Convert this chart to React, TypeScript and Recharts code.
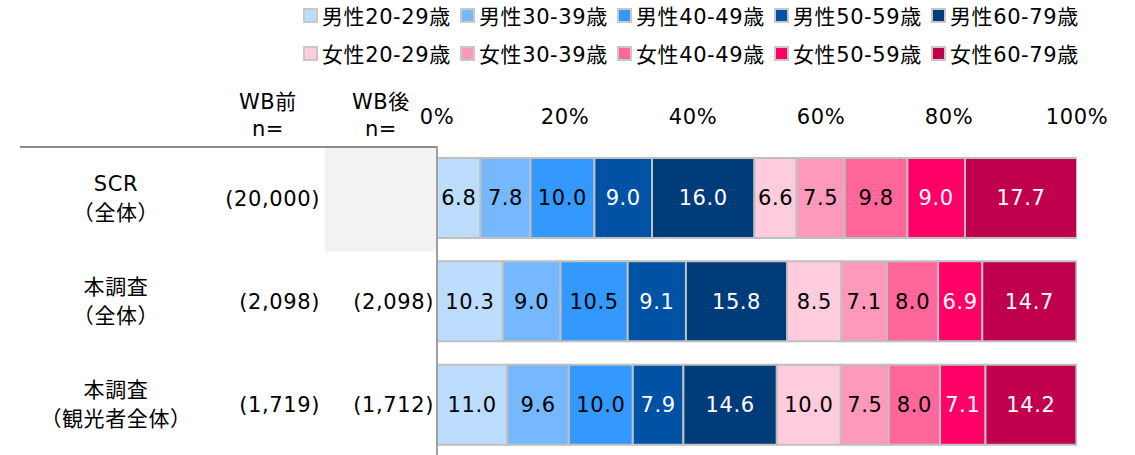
import React from 'react';
import { BarChart, Bar, XAxis, YAxis, LabelList } from 'recharts';

// rows (top to bottom)
const categories = ['SCR\n（全体）', '本調査\n（全体）', '本調査\n（観光者全体）'];
const nBefore = ['(20,000)', '(2,098)', '(1,719)'];
const nAfter = ['', '(2,098)', '(1,712)'];

// series
const seriesNames = [
  '男性20-29歳', '男性30-39歳', '男性40-49歳', '男性50-59歳', '男性60-79歳',
  '女性20-29歳', '女性30-39歳', '女性40-49歳', '女性50-59歳', '女性60-79歳',
];
const m2029 = [6.8, 10.3, 11.0];
const m3039 = [7.8, 9.0, 9.6];
const m4049 = [10.0, 10.5, 10.0];
const m5059 = [9.0, 9.1, 7.9];
const m6079 = [16.0, 15.8, 14.6];
const f2029 = [6.6, 8.5, 10.0];
const f3039 = [7.5, 7.1, 7.5];
const f4049 = [9.8, 8.0, 8.0];
const f5059 = [9.0, 6.9, 7.1];
const f6079 = [17.7, 14.7, 14.2];
const seriesValues = [m2029, m3039, m4049, m5059, m6079, f2029, f3039, f4049, f5059, f6079];

const xTicks = [0, 20, 40, 60, 80, 100];

const COLORS = [
  '#bdddff', '#75b8ff', '#3399ff', '#0052a5', '#003c7a',
  '#ffccdd', '#ff99bb', '#ff6699', '#ff0066', '#c0004c',
];
const LABEL_COLORS = ['#000', '#000', '#000', '#fff', '#fff', '#000', '#000', '#000', '#fff', '#fff'];

const FONT = "'DejaVu Sans', 'Noto Sans CJK JP', sans-serif";
const FS = 21;
const LS = 0.6;

const data = categories.map((c, i) => {
  const row: { [k: string]: string | number } = { name: c, idx: i };
  seriesValues.forEach((vals, s) => {
    row['s' + s] = vals[i];
  });
  return row;
});

const PLOT_TOP = 146;
const PLOT_H = 310;
const BAND = PLOT_H / categories.length;

const txt = { fontSize: FS, fontFamily: FONT, fill: '#000', letterSpacing: LS };

const RowTick = (props: any) => {
  const { y, payload, index } = props;
  const lines = String(payload.value).split('\n');
  return (
    <g>
      {nAfter[index] === '' && (
        <rect x={325} y={y - BAND / 2 + 2} width={111} height={BAND} fill="#f2f2f2" />
      )}
      {lines.map((l, i) => (
        <text key={i} x={116} y={y - 13 + i * 29} textAnchor="middle" dominantBaseline="middle" style={txt}>{l}</text>
      ))}
      <text x={320} y={y + 2} textAnchor="end" dominantBaseline="middle" style={txt}>
        {nBefore[index]}
      </text>
      <text x={434} y={y + 2} textAnchor="end" dominantBaseline="middle" style={txt}>
        {nAfter[index]}
      </text>
    </g>
  );
};

const Legend2 = () => {
  const rows = [seriesNames.slice(0, 5), seriesNames.slice(5)];
  return (
    <div style={{ position: 'absolute', left: 303, top: -4, fontFamily: FONT, fontSize: FS, letterSpacing: LS }}>
      {rows.map((r, ri) => (
        <div key={ri} style={{ display: 'flex', height: 38, alignItems: 'center' }}>
          {r.map((n, i) => (
            <div key={n} style={{ display: 'flex', alignItems: 'center', width: 157, flexShrink: 0 }}>
              <span style={{
                width: 11, height: 11, background: COLORS[ri * 5 + i], border: '2px solid #c8c8c8',
                marginRight: 4, display: 'inline-block', flexShrink: 0,
              }} />
              <span style={{ whiteSpace: 'nowrap' }}>{n}</span>
            </div>
          ))}
        </div>
      ))}
    </div>
  );
};

export default function App() {
  return (
    <div style={{ position: 'absolute', left: 0, top: 0, width: 1135, height: 455, overflow: 'hidden', background: '#fff' }}>
      <Legend2 />
      <div style={{ position: 'absolute', left: 0, top: 0, width: 1135, height: 160, fontFamily: FONT, fontSize: FS, letterSpacing: LS }}>
        <div style={{ position: 'absolute', left: 218, width: 100, top: 85, textAlign: 'center' }}>WB前</div>
        <div style={{ position: 'absolute', left: 218, width: 100, top: 117, textAlign: 'center' }}>n=</div>
        <div style={{ position: 'absolute', left: 331, width: 100, top: 85, textAlign: 'center' }}>WB後</div>
        <div style={{ position: 'absolute', left: 331, width: 100, top: 117, textAlign: 'center' }}>n=</div>
        <div style={{ position: 'absolute', left: 20, width: 417, top: 146, height: 2, background: '#8c8c8c' }} />
      </div>
      <div style={{ position: 'absolute', left: 0, top: 0 }}>
        <BarChart width={1135} height={PLOT_TOP + PLOT_H} data={data} layout="vertical"
          margin={{ top: PLOT_TOP - 30, right: 58, bottom: 0, left: 20 }} barSize={80}>
          <XAxis type="number" orientation="top" domain={[0, 100]} ticks={xTicks} height={30}
            allowDataOverflow tickFormatter={(v: number) => `${v}%`} axisLine={false} tickLine={false}
            tickMargin={16} tick={{ ...txt }} interval={0} />
          <YAxis type="category" dataKey="name" width={417} axisLine={{ stroke: '#a0a0a0', strokeWidth: 2 }}
            tickLine={false} tick={<RowTick />} interval={0} />
          {seriesNames.map((n, s) => (
            <Bar key={n} dataKey={'s' + s} name={n} stackId="a" fill={COLORS[s]} stroke="#bfbfbf"
              strokeWidth={2} isAnimationActive={false}>
              <LabelList dataKey={'s' + s} position="center" fill={LABEL_COLORS[s]} fontSize={FS}
                fontFamily={FONT} style={{ letterSpacing: LS }} formatter={(v: any) => Number(v).toFixed(1)} />
            </Bar>
          ))}
        </BarChart>
      </div>
    </div>
  );
}
